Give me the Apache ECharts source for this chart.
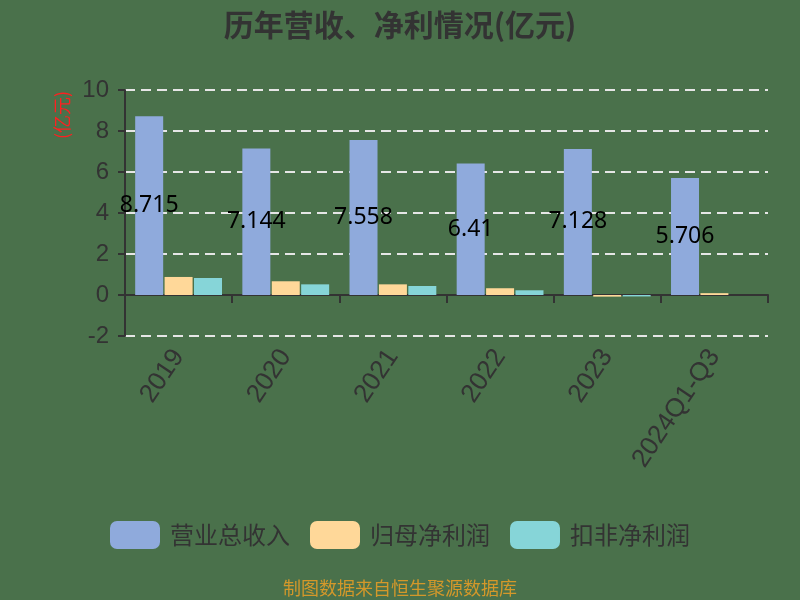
<!DOCTYPE html>
<html><head><meta charset="utf-8">
<script src="https://cdn.jsdelivr.net/npm/echarts@6/dist/echarts.min.js"></script>
<style>html,body{margin:0;padding:0;background:#4a714b;}#c{width:800px;height:600px;}</style>
</head><body><div id="c"></div>
<script>
const categories = ['2019','2020','2021','2022','2023','2024Q1-Q3'];
const revenue = [8.715, 7.144, 7.558, 6.41, 7.128, 5.706];
const netProfit = [0.88, 0.67, 0.52, 0.33, -0.08, 0.09];
const deductedProfit = [0.83, 0.52, 0.44, 0.23, -0.07, null];
const yTicks = {min: -2, max: 10, interval: 2};

const chart = echarts.init(document.getElementById('c'));
chart.setOption({
  backgroundColor: '#4a714b',
  animation: false,
  title: {
    text: '历年营收、净利情况(亿元)', left: 'center', top: 5,
    textStyle: {fontSize: 30, fontWeight: 'bold', color: '#333', fontFamily: 'Noto Sans CJK SC'}
  },
  grid: {left: 125, right: 32, top: 90, bottom: 264},
  legend: {
    bottom: 46, left: 'center', itemWidth: 50, itemHeight: 28, itemGap: 20,
    textStyle: {fontSize: 24, color: '#333', fontFamily: 'Noto Sans CJK SC', padding: [0,0,0,5]},
    data: ['营业总收入','归母净利润','扣非净利润']
  },
  graphic: [
    {type: 'text', left: 'center', top: 579, style: {text: '制图数据来自恒生聚源数据库', fill: '#d4982a', fontSize: 18, fontFamily: 'Noto Sans CJK SC'}},
    {type: 'text', x: 62, y: 115, rotation: Math.PI/2, style: {text: '(亿元)', fill: '#ff2020', fontSize: 18, fontFamily: 'Noto Sans CJK SC', align: 'center', verticalAlign: 'middle'}}
  ],
  xAxis: {
    type: 'category', data: categories,
    axisLine: {onZero: true, lineStyle: {color: '#333', width: 2}},
    axisTick: {show: true, length: 8, lineStyle: {color: '#333', width: 2}},
    axisLabel: {rotate: 56, margin: 16, fontSize: 26, color: '#333', fontFamily: 'Liberation Sans'}
  },
  yAxis: {
    type: 'value', min: yTicks.min, max: yTicks.max, interval: yTicks.interval,
    axisLine: {show: true, lineStyle: {color: '#333', width: 2}},
    axisTick: {show: true, length: 7, lineStyle: {color: '#333', width: 2}},
    axisLabel: {fontSize: 24, color: '#333', margin: 16, fontFamily: 'Liberation Sans'},
    splitLine: {lineStyle: {color: '#e6e6e6', type: [10, 6], width: 2}}
  },
  series: [
    {name: '营业总收入', type: 'bar', data: revenue, barWidth: 28, barGap: '5%',
     itemStyle: {color: '#8faadc'},
     label: {show: true, position: 'inside', fontSize: 23, color: '#000', fontFamily: 'Noto Sans'}},
    {name: '归母净利润', type: 'bar', data: netProfit, barWidth: 28, barGap: '5%', itemStyle: {color: '#ffd899'}},
    {name: '扣非净利润', type: 'bar', data: deductedProfit, barWidth: 28, barGap: '5%', itemStyle: {color: '#86d5d8'}}
  ]
});
</script></body></html>
